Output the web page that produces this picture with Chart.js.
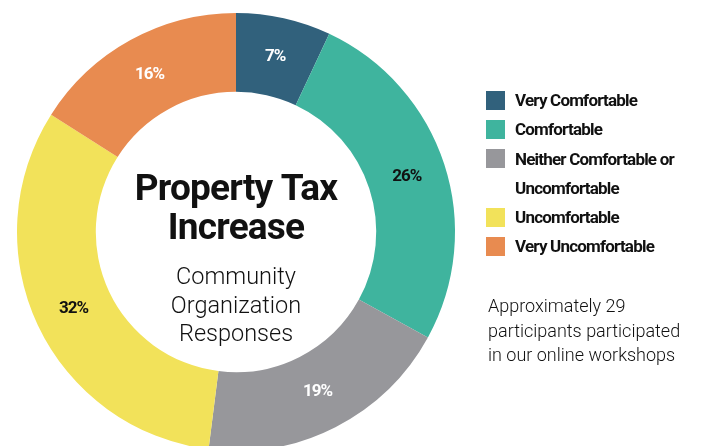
<!DOCTYPE html>
<html>
<head>
<meta charset="utf-8">
<script src="https://cdn.jsdelivr.net/npm/chart.js@4"></script>
<style>
  html, body { margin: 0; padding: 0; background: #fff; overflow: hidden; }
  #wrap { position: relative; width: 727px; height: 446px; }
  #myChart { position: absolute; left: 0; top: 0; }
  #legend { position: absolute; left: 486px; top: 86px; font-family: Roboto, sans-serif; font-weight: 700;
            font-size: 17px; letter-spacing: -0.8px; color: #111; }
  #legend .row { display: flex; align-items: flex-start; }
  #legend .box { width: 19px; height: 19px; margin-top: 4.5px; margin-right: 10px; flex: none; }
  #legend .txt { line-height: 29.3px; max-width: 180px; }
  #note { position: absolute; left: 488px; top: 294px; font-family: Roboto, sans-serif; font-weight: 300;
          font-size: 18px; line-height: 24.5px; color: #111; }
</style>
</head>
<body>
<div id="wrap">
  <canvas id="myChart" width="727" height="446"></canvas>
  <div id="legend"></div>
  <div id="note">Approximately 29<br>participants participated<br>in our online workshops</div>
</div>
<script>
var categories = ['Very Comfortable', 'Comfortable', 'Neither Comfortable or Uncomfortable', 'Uncomfortable', 'Very Uncomfortable'];
var shares = [7, 26, 19, 32, 16];
var colors = ['#31617c', '#3fb49e', '#97979b', '#f2e25a', '#e88b50'];
var labelColors = ['#ffffff', '#111111', '#ffffff', '#111111', '#ffffff'];
var titleLines = ['Property Tax', 'Increase'];
var subtitleLines = ['Community', 'Organization', 'Responses'];

window.addEventListener('load', function(){

    // legend on the right
    var legend = document.getElementById('legend');
    categories.forEach(function(name, i){
        var row = document.createElement('div');
        row.className = 'row';
        var box = document.createElement('div');
        box.className = 'box';
        box.style.background = colors[i];
        var txt = document.createElement('div');
        txt.className = 'txt';
        txt.textContent = name;
        row.appendChild(box);
        row.appendChild(txt);
        legend.appendChild(row);
    });

    // percentages on the ring + the title in the hole
    var ringText = {
        id: 'ringText',
        afterDatasetsDraw: function(chart){
            var ctx = chart.ctx;
            var arcs = chart.getDatasetMeta(0).data;
            ctx.save();
            ctx.textAlign = 'center';
            ctx.textBaseline = 'middle';
            ctx.font = '700 17px Roboto';
            ctx.letterSpacing = '-1px';
            arcs.forEach(function(arc, i){
                var p = arc.tooltipPosition();
                ctx.fillStyle = labelColors[i];
                ctx.fillText(shares[i] + '%', p.x, p.y);
            });

            var cx = arcs[0].x;
            var cy = arcs[0].y;
            ctx.textBaseline = 'alphabetic';
            ctx.fillStyle = '#111111';
            ctx.font = '700 37px Roboto';
            ctx.letterSpacing = '-0.8px';
            ctx.fillText(titleLines[0], cx, cy - 32);
            ctx.fillText(titleLines[1], cx, cy + 7);
            ctx.font = '300 23.5px Roboto';
            ctx.letterSpacing = '0px';
            subtitleLines.forEach(function(line, i){
                ctx.fillText(line, cx, cy + 52 + i * 28.5);
            });
            ctx.restore();
        }
    };

    var ctx = document.getElementById('myChart').getContext('2d');
    var chart = new Chart(ctx, {
        type: 'doughnut',
        data: {
            labels: categories,
            datasets: [{
                data: shares,
                backgroundColor: colors,
                borderWidth: 0
            }]
        },
        options: {
            responsive: false,
            animation: false,
            radius: 219,
            cutout: 137,
            layout: { padding: { top: 18, right: 255, left: 0, bottom: 0 } },
            plugins: {
                legend: { display: false },
                tooltip: { enabled: false }
            }
        },
        plugins: [ringText]
    });
});
</script>
</body>
</html>
